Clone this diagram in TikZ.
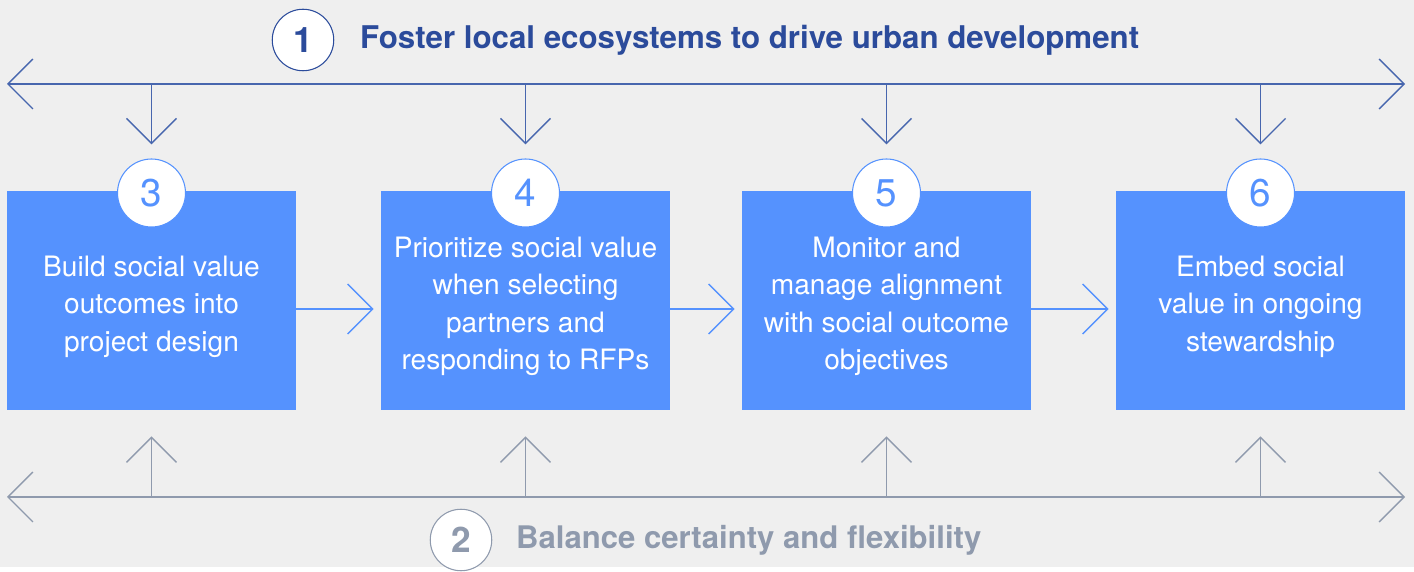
\documentclass[tikz,border=0pt]{standalone}
\usepackage{fontspec}
\setmainfont{TeX Gyre Heros}
\usetikzlibrary{arrows.meta}
\definecolor{boxblue}{HTML}{5592FE}
\definecolor{darkblue}{HTML}{2B4B9B}
\definecolor{lineblue}{HTML}{4766AE}
\definecolor{greyblue}{HTML}{8F9AAD}
\definecolor{bgcolor}{HTML}{EFEFEF}
\tikzset{
  stepbox/.style={rectangle, fill=boxblue, minimum width=5.78cm, minimum height=4.38cm, inner sep=0pt},
  steptext/.style={text=white, align=center, inner sep=0pt, font=\fontsize{16}{21.3}\selectfont},
  numcircle/.style={circle, fill=white, draw=boxblue, line width=0.6pt, minimum size=1.36cm,
    inner sep=0pt, text=boxblue, font=\fontsize{22}{22}\selectfont},
  headcircle/.style={circle, fill=white, line width=0.6pt, minimum size=1.23cm,
    inner sep=0pt, font=\fontsize{20}{20}\selectfont\bfseries},
  barb/.tip={Straight Barb[length=0.5cm,width=1cm]},
  topline/.style={draw=lineblue, line width=0.8pt},
  botline/.style={draw=greyblue, line width=0.8pt},
  flowline/.style={draw=boxblue, line width=0.8pt, -barb, shorten >=0.14cm},
}
\begin{document}
\begin{tikzpicture}[x=0.02cm, y=-0.02cm]
  \fill[bgcolor] (0,0) rectangle (1414,567);

  % headings
  \node[headcircle, draw=darkblue, text=darkblue] (c1) at (303,40) {1};
  \node[anchor=west, text=darkblue, font=\fontsize{17.8}{20}\selectfont\bfseries] (t1) at (354,40)
    {Foster local ecosystems to drive urban development};
  \node[headcircle, draw=greyblue, text=greyblue] (c2) at (461,540) {2};
  \node[anchor=west, text=greyblue, font=\fontsize{17.7}{20}\selectfont\bfseries] (t2) at (510,540)
    {Balance certainty and flexibility};

  % steps
  \node[stepbox] (b3) at (151.5,300.5) {};
  \node[stepbox] (b4) at (525.5,300.5) {};
  \node[stepbox] (b5) at (886.5,300.5) {};
  \node[stepbox] (b6) at (1260.5,300.5) {};
  \node[steptext] (s3) at (151.5,306.5) {Build social value\\outcomes into\\project design};
  \node[steptext] (s4) at (525.5,306.5) {Prioritize social value\\when selecting\\partners and\\responding to RFPs};
  \node[steptext] (s5) at (886.5,306.5) {Monitor and\\manage alignment\\with social outcome\\objectives};
  \node[steptext] (s6) at (1260.5,306.5) {Embed social\\value in ongoing\\stewardship};
  \node[numcircle] (c3) at (151.5,193) {3};
  \node[numcircle] (c4) at (525.5,193) {4};
  \node[numcircle] (c5) at (886.5,193) {5};
  \node[numcircle] (c6) at (1260.5,193) {6};

  % top axis
  \coordinate (topL) at (7,84);
  \coordinate (topR) at (1405,84);
  \coordinate (top3) at (151.5,84);
  \coordinate (top4) at (525.5,84);
  \coordinate (top5) at (886.5,84);
  \coordinate (top6) at (1260.5,84);
  \draw[topline, barb-barb] (topL) -- (topR);
  \draw[topline, -barb, shorten >=0.28cm] (top3) -- (c3);
  \draw[topline, -barb, shorten >=0.28cm] (top4) -- (c4);
  \draw[topline, -barb, shorten >=0.28cm] (top5) -- (c5);
  \draw[topline, -barb, shorten >=0.28cm] (top6) -- (c6);

  % bottom axis
  \coordinate (botL) at (7,497);
  \coordinate (botR) at (1405,497);
  \coordinate (bot3) at (151.5,497);
  \coordinate (bot4) at (525.5,497);
  \coordinate (bot5) at (886.5,497);
  \coordinate (bot6) at (1260.5,497);
  \draw[botline, barb-barb] (botL) -- (botR);
  \draw[botline, -barb, shorten >=0.52cm] (bot3) -- (b3);
  \draw[botline, -barb, shorten >=0.52cm] (bot4) -- (b4);
  \draw[botline, -barb, shorten >=0.52cm] (bot5) -- (b5);
  \draw[botline, -barb, shorten >=0.52cm] (bot6) -- (b6);

  % flow between steps
  \draw[flowline] ([yshift=-0.17cm]b3.east) -- ([yshift=-0.17cm]b4.west);
  \draw[flowline] ([yshift=-0.17cm]b4.east) -- ([yshift=-0.17cm]b5.west);
  \draw[flowline] ([yshift=-0.17cm]b5.east) -- ([yshift=-0.17cm]b6.west);
\end{tikzpicture}
\end{document}
